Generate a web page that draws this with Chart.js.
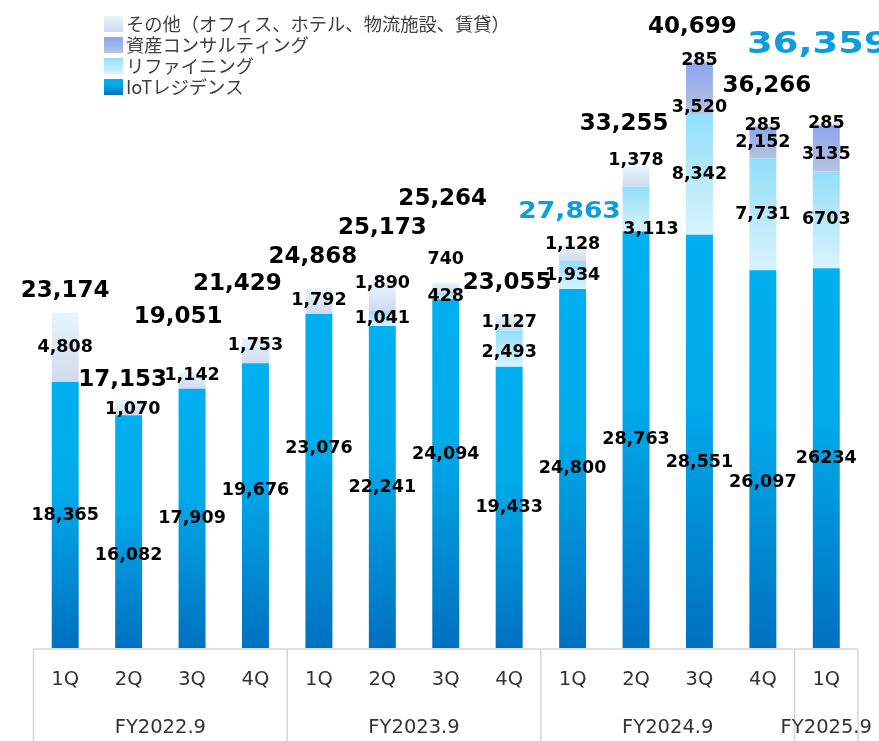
<!DOCTYPE html>
<html lang="ja">
<head>
<meta charset="UTF-8">
<meta name="viewport" content="width=device-width, initial-scale=1.0">
<title>セグメント別売上高推移</title>
<script src="https://cdn.jsdelivr.net/npm/chart.js"></script>
<style>
  html, body { margin: 0; padding: 0; background: #ffffff; }
  canvas { display: block; }
</style>
</head>
<body>
<canvas id="grafico" width="879" height="741"></canvas>
<script>
// dados
const quarters = ['1Q', '2Q', '3Q', '4Q', '1Q', '2Q', '3Q', '4Q', '1Q', '2Q', '3Q', '4Q', '1Q'];
const fiscalYears = ['FY2022.9', 'FY2023.9', 'FY2024.9', 'FY2025.9'];
const quartersPerYear = [4, 4, 4, 1];

const iotResidence = [18365, 16082, 17909, 19676, 23076, 22241, 24094, 19433, 24800, 28763, 28551, 26097, 26234];
const refining = [0, 0, 0, 0, 0, 1041, 428, 2493, 1934, 3113, 8342, 7731, 6703];
const assetConsulting = [0, 0, 0, 0, 0, 0, 0, 0, 0, 0, 3520, 2152, 3135];
const others = [4808, 1070, 1142, 1753, 1792, 1890, 740, 1127, 1128, 1378, 285, 285, 285];
const totals = [23174, 17153, 19051, 21429, 24868, 25173, 25264, 23055, 27863, 33255, 40699, 36266, 36359];

const seriesNames = ['IoTレジデンス', 'リファイニング', '資産コンサルティング', 'その他（オフィス、ホテル、物流施設、賃貸）'];

// cores (gradiente de cima para baixo)
const coresIot = [[0, '#00b0f0'], [0.4, '#00abeb'], [1, '#0070c0']];
const coresRefining = [[0, '#92dff9'], [1, '#d8f3fd']];
const coresConsulting = [[0, '#8aa6ef'], [1, '#b8c2e0']];
const coresOthers = [[0, '#e6f6fd'], [1, '#d2d9ee']];

function gradiente(cores) {
  return function (c) {
    const chart = c.chart;
    const y = chart.scales.y;
    if (!chart.chartArea || !y || c.type !== 'data') return cores[0][1];
    const i = c.dataIndex;
    let base = 0;
    for (let k = 0; k < c.datasetIndex; k++) base += chart.data.datasets[k].data[i] || 0;
    const topo = base + (c.raw || 0);
    const y0 = y.getPixelForValue(topo);
    const y1 = y.getPixelForValue(base);
    if (!isFinite(y0) || !isFinite(y1) || y1 - y0 < 1) return cores[0][1];
    const g = chart.ctx.createLinearGradient(0, y0, 0, y1);
    cores.forEach(s => g.addColorStop(s[0], s[1]));
    return g;
  };
}

// rótulos dentro das barras e totais
const rotulos = {
  id: 'rotulos',
  afterDatasetsDraw(chart, args, opts) {
    const ctx = chart.ctx;
    ctx.save();
    ctx.textAlign = 'center';
    ctx.textBaseline = 'middle';
    ctx.fillStyle = '#000000';
    ctx.font = 'bold 17.5px "DejaVu Sans"';
    chart.data.datasets.forEach((ds, d) => {
      const meta = chart.getDatasetMeta(d);
      meta.data.forEach((bar, i) => {
        const v = ds.data[i];
        if (!v) return;
        const n = opts.ajustes[d + ':' + i] || [0, 0];
        const txt = i === opts.semVirgula ? String(v) : v.toLocaleString('en-US');
        ctx.fillText(txt, bar.x + n[0], (bar.y + bar.base) / 2 + n[1]);
      });
    });

    const topoBarras = chart.getDatasetMeta(chart.data.datasets.length - 1).data;
    totals.forEach((t, i) => {
      const bar = topoBarras[i];
      const a = opts.ajustesTotal[i];
      const dst = opts.destaques[i];
      const txt = t.toLocaleString('en-US');
      ctx.save();
      ctx.translate(bar.x + a[0], bar.y + a[1]);
      if (dst) {
        ctx.scale(dst.sx, 1);
        ctx.font = 'bold ' + dst.size + 'px "DejaVu Sans"';
        ctx.fillStyle = '#0e9ddc';
      } else {
        ctx.font = 'bold 23px "DejaVu Sans"';
        ctx.fillStyle = '#000000';
      }
      ctx.fillText(txt, 0, 0);
      ctx.restore();
    });
    ctx.restore();
  }
};

// eixo x em caixas (trimestre / ano fiscal)
const eixo = {
  id: 'eixo',
  afterDraw(chart) {
    const ctx = chart.ctx;
    const x = chart.scales.x;
    const area = chart.chartArea;
    const passo = x.getPixelForValue(1) - x.getPixelForValue(0);
    const borda = i => x.getPixelForValue(i) - passo / 2;
    const yTopo = area.bottom + 1;
    const yFim = chart.height;

    ctx.save();
    ctx.strokeStyle = '#d6d6d6';
    ctx.lineWidth = 1.5;
    ctx.beginPath();
    ctx.moveTo(borda(0), yTopo);
    ctx.lineTo(borda(quarters.length), yTopo);
    let ini = 0;
    const limites = [0];
    quartersPerYear.forEach(n => { ini += n; limites.push(ini); });
    limites.forEach(k => {
      ctx.moveTo(borda(k), yTopo);
      ctx.lineTo(borda(k), yFim);
    });
    ctx.stroke();

    ctx.fillStyle = '#333333';
    ctx.textAlign = 'center';
    ctx.textBaseline = 'middle';
    ctx.font = '19.5px "DejaVu Sans"';
    quarters.forEach((q, i) => ctx.fillText(q, x.getPixelForValue(i), yTopo + 31));
    fiscalYears.forEach((fy, k) => {
      const cx = (borda(limites[k]) + borda(limites[k + 1])) / 2;
      ctx.fillText(fy, cx, yTopo + 79);
    });
    ctx.restore();
  }
};

// legenda no canto superior esquerdo
const legenda = {
  id: 'legenda',
  afterDraw(chart) {
    const ctx = chart.ctx;
    const ordem = [3, 2, 1, 0];
    const coresLeg = [coresIot, coresRefining, coresConsulting, coresOthers];
    ctx.save();
    ctx.textAlign = 'left';
    ctx.textBaseline = 'middle';
    ctx.font = '18.3px "Noto Sans CJK JP"';
    ordem.forEach((d, r) => {
      const cy = 24 + r * 21;
      const g = ctx.createLinearGradient(0, cy - 8, 0, cy + 8);
      coresLeg[d].forEach(s => g.addColorStop(s[0], s[1]));
      ctx.fillStyle = g;
      ctx.fillRect(104, cy - 8, 19, 16);
      ctx.fillStyle = '#404040';
      ctx.fillText(seriesNames[d], 126, cy);
    });
    ctx.restore();
  }
};

const ctxGrafico = document.getElementById('grafico').getContext('2d');
new Chart(ctxGrafico, {
  type: 'bar',
  data: {
    labels: quarters,
    datasets: [
      { label: seriesNames[0], data: iotResidence, backgroundColor: gradiente(coresIot) },
      { label: seriesNames[1], data: refining, backgroundColor: gradiente(coresRefining) },
      { label: seriesNames[2], data: assetConsulting, backgroundColor: gradiente(coresConsulting) },
      { label: seriesNames[3], data: others, backgroundColor: gradiente(coresOthers) }
    ]
  },
  options: {
    responsive: false,
    animation: false,
    layout: { padding: { left: 33.5, right: 21, top: 11, bottom: 93 } },
    datasets: { bar: { barPercentage: 0.85, categoryPercentage: 0.5, borderWidth: 0 } },
    scales: {
      x: { stacked: true, display: false },
      y: { stacked: true, display: false, min: 0, max: 44000 }
    },
    plugins: {
      legend: { display: false },
      tooltip: { enabled: false },
      rotulos: {
        semVirgula: 12,
        ajustes: {
          '0:1': [0, 24], '0:3': [0, -15], '0:4': [0, -33], '0:6': [0, -19], '0:10': [0, 21], '0:11': [0, 23],
          '1:7': [0, 4], '1:9': [15, 20],
          '2:10': [0, 19], '2:12': [0, 6],
          '3:1': [4, 2], '3:2': [0, -5], '3:3': [0, -5], '3:5': [0, -14], '3:6': [0, -28], '3:8': [0, -8], '3:9': [0, -16]
        },
        ajustesTotal: [[0, -21], [-6, -20], [-14, -55], [-18, -54], [-6, -31], [0, -56], [-3, -83],
                       [-2, -31], [-3, -33], [-12, -43], [-7, -32], [4, -37], [-8, -76]],
        destaques: { 8: { size: 23.5, sx: 1.13 }, 12: { size: 30, sx: 1.23 } }
      }
    }
  },
  plugins: [rotulos, eixo, legenda]
});
</script>
</body>
</html>
